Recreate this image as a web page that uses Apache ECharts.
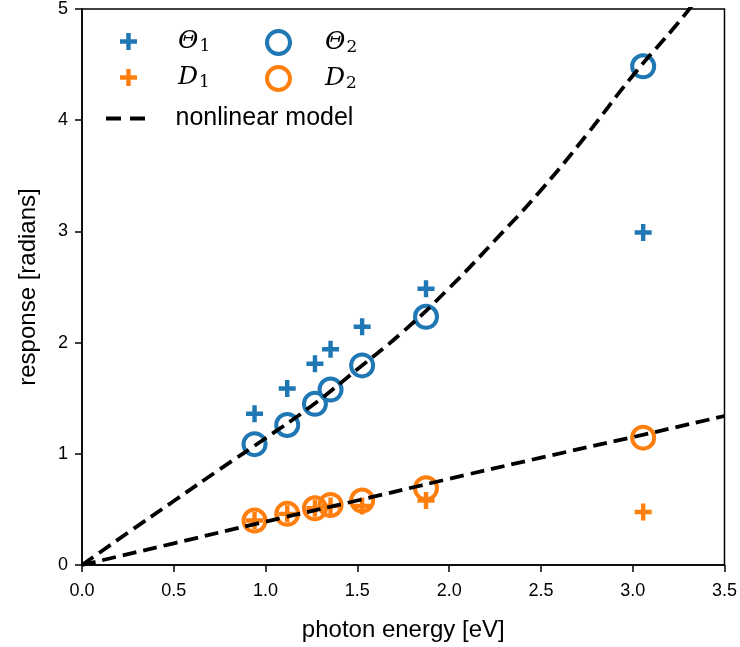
<!DOCTYPE html>
<html>
<head>
<meta charset="utf-8">
<script src="https://cdn.jsdelivr.net/npm/echarts@6/dist/echarts.min.js"></script>
<style>
html,body{margin:0;padding:0;background:#fff;}
#chart{width:740px;height:647px;}
</style>
</head>
<body>
<div id="chart"></div>
<script>
// photon energies [eV]
const energy = [0.94, 1.118, 1.269, 1.354, 1.526, 1.874, 3.057];
// measured responses [radians]
const theta1 = [1.36, 1.587, 1.81, 1.94, 2.143, 2.485, 2.99];
const theta2 = [1.087, 1.259, 1.449, 1.578, 1.795, 2.232, 4.485];
const d1 = [0.40, 0.46, 0.51, 0.53, 0.53, 0.58, 0.476];
const d2 = [0.40, 0.46, 0.51, 0.54, 0.58, 0.69, 1.145];
// nonlinear model curves
const modelThetaX = [0, 0.25, 0.5, 0.75, 1.0, 1.25, 1.5, 1.75, 2.0, 2.25, 2.5, 2.75, 3.0, 3.25, 3.35];
const modelThetaY = [0, 0.29, 0.575, 0.86, 1.14, 1.43, 1.76, 2.10, 2.49, 2.92, 3.37, 3.87, 4.40, 4.88, 5.09];
const modelDX = [0, 0.5, 1.0, 1.5, 2.0, 2.5, 3.0, 3.5];
const modelDY = [0, 0.195, 0.39, 0.58, 0.775, 0.965, 1.15, 1.34];
// axis ticks
const xTicks = [0, 0.5, 1.0, 1.5, 2.0, 2.5, 3.0, 3.5];
const yTicks = [0, 1, 2, 3, 4, 5];

const BLUE = '#1f77b4', ORANGE = '#ff7f0e';
const PLUS = 'path://M-1.3,-5H1.3V-1.3H5V1.3H1.3V5H-1.3V1.3H-5V-1.3H-1.3Z';
const DASHES = 'path://M0,0H15V4H0Z M24,0H39V4H24Z';
const FONT = 'Liberation Sans';

const zip = (xs, ys) => xs.map((x, i) => [x, ys[i]]);

const mathRich = {
  v: {fontFamily: 'DejaVu Serif', fontStyle: 'italic', fontSize: 25, color: '#000'},
  s: {fontFamily: 'DejaVu Serif', fontSize: 17, color: '#000', padding: [11, 0, 0, 1]}
};
const labelFmt = {
  'Θ1': '{v|Θ}{s|1}', 'Θ2': '{v|Θ}{s|2}', 'D1': '{v|D}{s|1}', 'D2': '{v|D}{s|2}'
};

function legendItem(name, left, top, icon, iw, ih, style, pad) {
  return {
    data: [{name: name, icon: icon, itemStyle: style}],
    left: left, top: top, padding: 0,
    itemWidth: iw, itemHeight: ih,
    selectedMode: false,
    formatter: n => labelFmt[n] || n,
    textStyle: {fontFamily: FONT, fontSize: 25, color: '#000', padding: [0, 0, 0, pad], rich: mathRich}
  };
}

const chart = echarts.init(document.getElementById('chart'), null, {renderer: 'canvas'});
chart.setOption({
  animation: false,
  grid: {left: 82, right: 8, top: 5, bottom: 82, show: true, borderColor: '#000', borderWidth: 1.5, containLabel: false},
  xAxis: {
    type: 'value', min: xTicks[0], max: xTicks[xTicks.length - 1], interval: 0.5,
    name: 'photon energy [eV]', nameLocation: 'middle', nameGap: 53,
    nameTextStyle: {fontFamily: FONT, fontSize: 24, color: '#000'},
    axisLine: {lineStyle: {color: '#000', width: 1.5}},
    axisTick: {inside: false, length: 7, lineStyle: {color: '#000', width: 1.5}},
    axisLabel: {formatter: v => v.toFixed(1), fontFamily: FONT, fontSize: 18, color: '#000', margin: 17},
    splitLine: {show: false}
  },
  yAxis: {
    type: 'value', min: yTicks[0], max: yTicks[yTicks.length - 1], interval: 1,
    name: 'response [radians]', nameLocation: 'middle', nameGap: 42,
    nameTextStyle: {fontFamily: FONT, fontSize: 24, color: '#000'},
    axisLine: {show: true, lineStyle: {color: '#000', width: 1.5}},
    axisTick: {show: true, inside: false, length: 7, lineStyle: {color: '#000', width: 1.5}},
    axisLabel: {fontFamily: FONT, fontSize: 18, color: '#000', margin: 14},
    splitLine: {show: false}
  },
  legend: [
    legendItem('Θ1', 120, 29, PLUS, 17, 17, {color: BLUE}, 36),
    legendItem('Θ2', 265, 29, 'circle', 23, 23, {color: 'rgba(0,0,0,0)', borderColor: BLUE, borderWidth: 4}, 30),
    legendItem('D1', 120, 65, PLUS, 17, 17, {color: ORANGE}, 36),
    legendItem('D2', 265, 65, 'circle', 23, 23, {color: 'rgba(0,0,0,0)', borderColor: ORANGE, borderWidth: 4}, 30),
    legendItem('nonlinear model', 106, 106, DASHES, 42, 4, {color: '#000'}, 24)
  ],
  series: [
    {name: 'Θ1', type: 'scatter', data: zip(energy, theta1), symbol: PLUS, symbolSize: 17, itemStyle: {color: BLUE, opacity: 1}, z: 2},
    {name: 'D1', type: 'scatter', data: zip(energy, d1), symbol: PLUS, symbolSize: 17, itemStyle: {color: ORANGE, opacity: 1}, z: 2},
    {name: 'Θ2', type: 'scatter', data: zip(energy, theta2), symbol: 'circle', symbolSize: 22,
      itemStyle: {color: 'rgba(0,0,0,0)', borderColor: BLUE, borderWidth: 4, opacity: 1}, z: 2},
    {name: 'D2', type: 'scatter', data: zip(energy, d2), symbol: 'circle', symbolSize: 22,
      itemStyle: {color: 'rgba(0,0,0,0)', borderColor: ORANGE, borderWidth: 4, opacity: 1}, z: 2},
    {name: 'nonlinear model', type: 'line', data: zip(modelThetaX, modelThetaY), showSymbol: false, symbol: 'none', smooth: true, clip: true,
      lineStyle: {color: '#000', width: 3.8, type: [14, 7]}, itemStyle: {color: '#000'}, z: 3},
    {name: 'nonlinear model', type: 'line', data: zip(modelDX, modelDY), showSymbol: false, symbol: 'none', smooth: true, clip: true,
      lineStyle: {color: '#000', width: 3.8, type: [14, 7]}, itemStyle: {color: '#000'}, z: 3}
  ]
});
</script>
</body>
</html>
